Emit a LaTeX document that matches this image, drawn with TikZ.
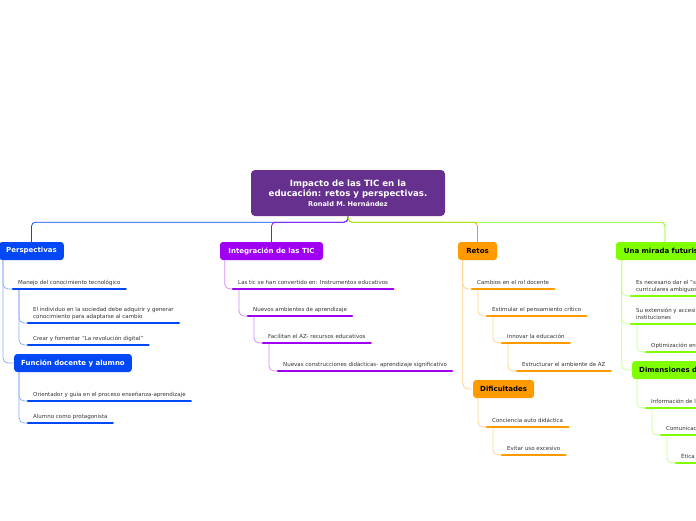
\documentclass[tikz,border=0pt]{standalone}
\usepackage{fontspec}
\setmainfont{DejaVu Sans}
\definecolor{rootc}{HTML}{66308F}
\definecolor{cblue}{HTML}{0048F5}
\definecolor{cpurp}{HTML}{A000F2}
\definecolor{corange}{HTML}{FF9A00}
\definecolor{cgreen}{HTML}{80FF00}
\definecolor{txt}{HTML}{333333}
\tikzset{
  rootbox/.style={fill=rootc, rounded corners=4pt, text=white, font=\bfseries\fontsize{8.6}{10.5}\selectfont, align=center, minimum width=194pt, minimum height=46pt, inner sep=0pt},
  branch/.style={rounded corners=3pt, font=\bfseries\fontsize{7}{8}\selectfont, minimum height=18pt, inner xsep=7pt, inner ysep=0pt},
  topic/.style={font=\fontsize{5.5}{6.3}\selectfont, text=txt, align=left, inner xsep=5pt, inner ysep=3.2pt, text depth=1.5pt, anchor=south west},
  ul/.style={line width=2.6pt, line cap=round, draw=#1},
  conn/.style={line width=0.8pt, rounded corners=5pt, draw=#1!45!white},
  rootconn/.style={line width=0.8pt, rounded corners=4pt, draw=#1}
}
\begin{document}
\begin{tikzpicture}[x=1pt,y=-1pt]
\useasboundingbox (0,0) rectangle (696,520);
\coordinate (edge) at (702,0);
% root
\node[rootbox] (root) at (348,193) {Impacto de las TIC en la\\educación: retos y perspectivas.\\[-1pt]{\fontsize{6.6}{7.5}\selectfont Ronald M. Hernández}};
% branches
\node[branch, fill=cblue, text=white, minimum width=63pt] (P) at (31.5,251) {Perspectivas};
\node[branch, fill=cpurp, text=white, minimum width=103pt] (I) at (271.5,251) {Integración de las TIC};
\node[branch, fill=corange, text=black, minimum width=39pt] (R) at (477.5,251) {Retos};
\node[branch, fill=cgreen, text=black, minimum width=98pt] (U) at (665,251) {Una mirada futurista};
% root connectors
\draw[rootconn=cblue] (root.south) -- ++(0,6) -| (P.north);
\draw[rootconn=cpurp] (root.south) -- ++(0,6) -| (I.north);
\draw[rootconn=corange] (root.south) -- ++(0,6) -| (R.north);
\draw[rootconn=cgreen] (root.south) -- ++(0,6) -| (U.north);
% Perspectivas
\node[topic] (m1) at (13,289) {Manejo del conocimiento tecnológico};
\node[topic] (m2) at (28,323) {El individuo en la sociedad debe adquirir y generar\\conocimiento para adaptarse al cambio};
\node[topic] (m3) at (28,345) {Crear y fomentar "La revolución digital"};
\node[branch, fill=cblue, text=white, minimum width=103pt, anchor=west] (F) at (14,363) {Función docente y alumno};
\node[topic] (f1) at (28,401) {Orientador y guía en el proceso enseñanza-aprendizaje};
\node[topic] (f2) at (28,423) {Alumno como protagonista};
\draw[conn=cblue] ([xshift=4pt]P.south west) |- (m1.south west);
\draw[conn=cblue] ([xshift=4pt]P.south west) |- (F.west);
\draw[conn=cblue] ([xshift=6pt]m1.south west) |- (m2.south west);
\draw[conn=cblue] ([xshift=6pt]m1.south west) |- (m3.south west);
\draw[conn=cblue] ([xshift=5pt]F.south west) |- (f1.south west);
\draw[conn=cblue] ([xshift=5pt]F.south west) |- (f2.south west);
\foreach \n in {m1,m2,m3,f1,f2} \draw[ul=cblue] (\n.south west) -- (\n.south east);
% Integracion
\node[topic] (i1) at (233,289) {Las tic se han convertido en: Instrumentos educativos};
\node[topic] (i2) at (248,316) {Nuevos ambientes de aprendizaje};
\node[topic] (i3) at (263,343) {Facilitan el AZ- recursos educativos};
\node[topic] (i4) at (278,371) {Nuevas construcciones didácticas- aprendizaje significativo};
\draw[conn=cpurp] ([xshift=5pt]I.south west) |- (i1.south west);
\draw[conn=cpurp] ([xshift=6pt]i1.south west) |- (i2.south west);
\draw[conn=cpurp] ([xshift=6pt]i2.south west) |- (i3.south west);
\draw[conn=cpurp] ([xshift=6pt]i3.south west) |- (i4.south west);
\foreach \n in {i1,i2,i3,i4} \draw[ul=cpurp] (\n.south west) -- (\n.south east);
% Retos
\node[topic] (r1) at (472,289) {Cambios en el rol docente};
\node[topic] (r2) at (487,316) {Estimular el pensamiento crítico};
\node[topic] (r3) at (502,343) {Innovar la educación};
\node[topic] (r4) at (517,371) {Estructurar el ambiente de AZ};
\node[branch, fill=corange, text=black, minimum width=54pt, anchor=west] (D) at (473,389) {Dificultades};
\node[topic] (d1) at (487,427) {Conciencia auto didáctica};
\node[topic] (d2) at (502,455) {Evitar uso excesivo};
\draw[conn=corange] ([xshift=5pt]R.south west) |- (r1.south west);
\draw[conn=corange] ([xshift=5pt]R.south west) |- (D.west);
\draw[conn=corange] ([xshift=6pt]r1.south west) |- (r2.south west);
\draw[conn=corange] ([xshift=6pt]r2.south west) |- (r3.south west);
\draw[conn=corange] ([xshift=6pt]r3.south west) |- (r4.south west);
\draw[conn=corange] ([xshift=5pt]D.south west) |- (d1.south west);
\draw[conn=corange] ([xshift=6pt]d1.south west) |- (d2.south west);
\foreach \n in {r1,r2,r3,r4,d1,d2} \draw[ul=corange] (\n.south west) -- (\n.south east);
% Mirada futurista
\node[topic] (g1) at (631,296) {Es necesario dar el "su\\curriculares ambiguos};
\node[topic] (g2) at (631,324) {Su extensión y accesi\\instituciones};
\node[topic] (g3) at (646,352) {Optimización en};
\node[branch, fill=cgreen, text=black, text width=80pt, align=left, anchor=west] (Dim) at (632,370) {Dimensiones de l};
\node[topic] (h1) at (646,408) {Información de l};
\node[topic] (h2) at (661,435) {Comunicac};
\node[topic] (h3) at (676,463) {Ética};
\draw[conn=cgreen] ([xshift=6pt]U.south west) |- (g1.south west);
\draw[conn=cgreen] ([xshift=6pt]U.south west) |- (g2.south west);
\draw[conn=cgreen] ([xshift=6pt]U.south west) |- (Dim.west);
\draw[conn=cgreen] ([xshift=6pt]g2.south west) |- (g3.south west);
\draw[conn=cgreen] ([xshift=5pt]Dim.south west) |- (h1.south west);
\draw[conn=cgreen] ([xshift=6pt]h1.south west) |- (h2.south west);
\draw[conn=cgreen] ([xshift=6pt]h2.south west) |- (h3.south west);
\foreach \n in {g1,g2,g3,h1,h2,h3} \draw[ul=cgreen] (\n.south west) -- (\n.south west -| edge);
\end{tikzpicture}
\end{document}
